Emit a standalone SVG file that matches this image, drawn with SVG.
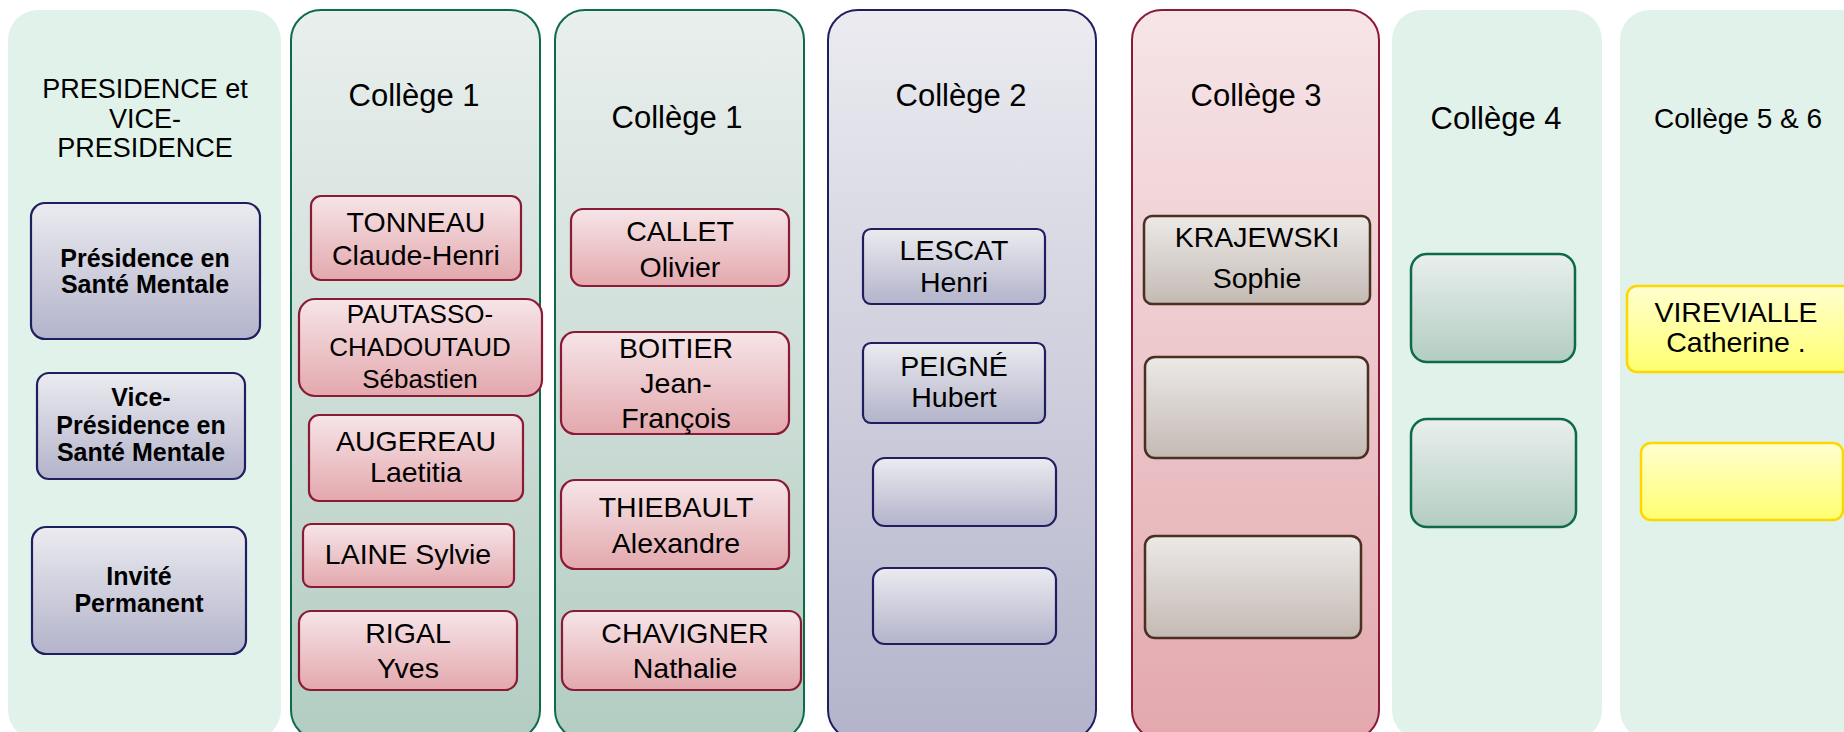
<svg xmlns="http://www.w3.org/2000/svg" width="1844" height="732" viewBox="0 0 1844 732">
<defs>
<linearGradient id="gGreen" x1="0" y1="0" x2="0" y2="1"><stop offset="0" stop-color="#e9efed"/><stop offset="1" stop-color="#b3cdc2"/></linearGradient>
<linearGradient id="gBlue" x1="0" y1="0" x2="0" y2="1"><stop offset="0" stop-color="#ebebf0"/><stop offset="1" stop-color="#b3b3cb"/></linearGradient>
<linearGradient id="gPink" x1="0" y1="0" x2="0" y2="1"><stop offset="0" stop-color="#f6e5e8"/><stop offset="1" stop-color="#e3a8ad"/></linearGradient>
<linearGradient id="gBrown" x1="0" y1="0" x2="0" y2="1"><stop offset="0" stop-color="#ece9e7"/><stop offset="1" stop-color="#c4bab4"/></linearGradient>
<linearGradient id="gYellow" x1="0" y1="0" x2="0" y2="1"><stop offset="0" stop-color="#ffffd0"/><stop offset="1" stop-color="#ffff70"/></linearGradient>
</defs>
<style>
text{font-family:"Liberation Sans",Arial,sans-serif;fill:#000;text-anchor:middle}
.title{font-size:31px}
.t0{font-size:27px}
.nm{font-size:28.5px}
.sm{font-size:26px}
.bd{font-size:25px;font-weight:bold}
.mint{fill:#e1f2eb}
.cG{fill:url(#gGreen);stroke:#0d6b4a;stroke-width:2}
.cB{fill:url(#gBlue);stroke:#1f1f5f;stroke-width:2}
.cP{fill:url(#gPink);stroke:#8b1a35;stroke-width:2}
.bB{fill:url(#gBlue);stroke:#1f1f5f;stroke-width:2.2}
.bP{fill:url(#gPink);stroke:#8b1a35;stroke-width:2.2}
.bG{fill:url(#gGreen);stroke:#0d6b4a;stroke-width:2.5}
.bR{fill:url(#gBrown);stroke:#4a3020;stroke-width:2.5}
.bY{fill:url(#gYellow);stroke:#ffd700;stroke-width:2.5}
</style>

<g id="col-presidence">
<rect class="mint" x="8" y="10" width="273" height="730" rx="30"/>
<text class="t0" x="145" y="98">PRESIDENCE et</text>
<text class="t0" x="145" y="128">VICE-</text>
<text class="t0" x="145" y="157">PRESIDENCE</text>
</g>
<g id="n-presidence">
<rect class="bB" x="31" y="203" width="229" height="136" rx="14"/>
<text class="bd" x="145" y="267">Présidence en</text>
<text class="bd" x="145" y="293">Santé Mentale</text>
</g>
<g id="n-vice">
<rect class="bB" x="37" y="373" width="208" height="106" rx="12"/>
<text class="bd" x="141" y="406">Vice-</text>
<text class="bd" x="141" y="434">Présidence en</text>
<text class="bd" x="141" y="461">Santé Mentale</text>
</g>
<g id="n-invite">
<rect class="bB" x="32" y="527" width="214" height="127" rx="14"/>
<text class="bd" x="139" y="585">Invité</text>
<text class="bd" x="139" y="612">Permanent</text>
</g>

<g id="col-college1a">
<rect class="cG" x="291" y="10" width="249" height="730" rx="30"/>
<text class="title" x="414" y="106">Collège 1</text>
</g>
<g id="n-tonneau">
<rect class="bP" x="311" y="196" width="210" height="84" rx="10"/>
<text class="nm" x="416" y="232">TONNEAU</text>
<text class="nm" x="416" y="265">Claude-Henri</text>
</g>
<g id="n-pautasso">
<rect class="bP" x="299" y="299" width="243" height="97" rx="16"/>
<text class="sm" x="420" y="323">PAUTASSO-</text>
<text class="sm" x="420" y="356">CHADOUTAUD</text>
<text class="sm" x="420" y="388">Sébastien</text>
</g>
<g id="n-augereau">
<rect class="bP" x="309" y="415" width="214" height="86" rx="10"/>
<text class="nm" x="416" y="451">AUGEREAU</text>
<text class="nm" x="416" y="482">Laetitia</text>
</g>
<g id="n-laine">
<rect class="bP" x="303" y="524" width="211" height="63" rx="8"/>
<text class="nm" x="408" y="564">LAINE Sylvie</text>
</g>
<g id="n-rigal">
<rect class="bP" x="299" y="611" width="218" height="79" rx="12"/>
<text class="nm" x="408" y="643">RIGAL</text>
<text class="nm" x="408" y="678">Yves</text>
</g>

<g id="col-college1b">
<rect class="cG" x="555" y="10" width="249" height="730" rx="30"/>
<text class="title" x="677" y="128">Collège 1</text>
</g>
<g id="n-callet">
<rect class="bP" x="571" y="209" width="218" height="77" rx="12"/>
<text class="nm" x="680" y="241">CALLET</text>
<text class="nm" x="680" y="277">Olivier</text>
</g>
<g id="n-boitier">
<rect class="bP" x="561" y="332" width="228" height="102" rx="14"/>
<text class="nm" x="676" y="358">BOITIER</text>
<text class="nm" x="676" y="393">Jean-</text>
<text class="nm" x="676" y="428">François</text>
</g>
<g id="n-thiebault">
<rect class="bP" x="561" y="480" width="228" height="89" rx="14"/>
<text class="nm" x="676" y="517">THIEBAULT</text>
<text class="nm" x="676" y="553">Alexandre</text>
</g>
<g id="n-chavigner">
<rect class="bP" x="562" y="611" width="239" height="79" rx="12"/>
<text class="nm" x="685" y="643">CHAVIGNER</text>
<text class="nm" x="685" y="678">Nathalie</text>
</g>

<g id="col-college2">
<rect class="cB" x="828" y="10" width="268" height="730" rx="30"/>
<text class="title" x="961" y="106">Collège 2</text>
</g>
<g id="n-lescat">
<rect class="bB" x="863" y="229" width="182" height="75" rx="8"/>
<text class="nm" x="954" y="260">LESCAT</text>
<text class="nm" x="954" y="292">Henri</text>
</g>
<g id="n-peigne">
<rect class="bB" x="863" y="343" width="182" height="80" rx="8"/>
<text class="nm" x="954" y="376">PEIGNÉ</text>
<text class="nm" x="954" y="407">Hubert</text>
</g>
<g id="n-c2-empty1">
<rect class="bB" x="873" y="458" width="183" height="68" rx="12"/>
</g>
<g id="n-c2-empty2">
<rect class="bB" x="873" y="568" width="183" height="76" rx="12"/>
</g>

<g id="col-college3">
<rect class="cP" x="1132" y="10" width="247" height="730" rx="30"/>
<text class="title" x="1256" y="106">Collège 3</text>
</g>
<g id="n-krajewski">
<rect class="bR" x="1144" y="216" width="226" height="88" rx="8"/>
<text class="nm" x="1257" y="247">KRAJEWSKI</text>
<text class="nm" x="1257" y="288">Sophie</text>
</g>
<g id="n-c3-empty1">
<rect class="bR" x="1145" y="357" width="223" height="101" rx="10"/>
</g>
<g id="n-c3-empty2">
<rect class="bR" x="1145" y="536" width="216" height="102" rx="10"/>
</g>

<g id="col-college4">
<rect class="mint" x="1392" y="10" width="210" height="730" rx="30"/>
<text class="title" x="1496" y="129">Collège 4</text>
</g>
<g id="n-c4-empty1">
<rect class="bG" x="1411" y="254" width="164" height="108" rx="16"/>
</g>
<g id="n-c4-empty2">
<rect class="bG" x="1411" y="419" width="165" height="108" rx="16"/>
</g>

<g id="col-college56">
<rect class="mint" x="1620" y="10" width="260" height="730" rx="30"/>
<text class="title" x="1738" y="128" style="font-size:28px">Collège 5 &amp; 6</text>
</g>
<g id="n-virevialle">
<rect class="bY" x="1627" y="286" width="230" height="86" rx="10"/>
<text class="nm" x="1736" y="322">VIREVIALLE</text>
<text class="nm" x="1736" y="352">Catherine .</text>
</g>
<g id="n-c56-empty">
<rect class="bY" x="1641" y="443" width="202" height="77" rx="10"/>
</g>

<g id="connectors"/>
</svg>
